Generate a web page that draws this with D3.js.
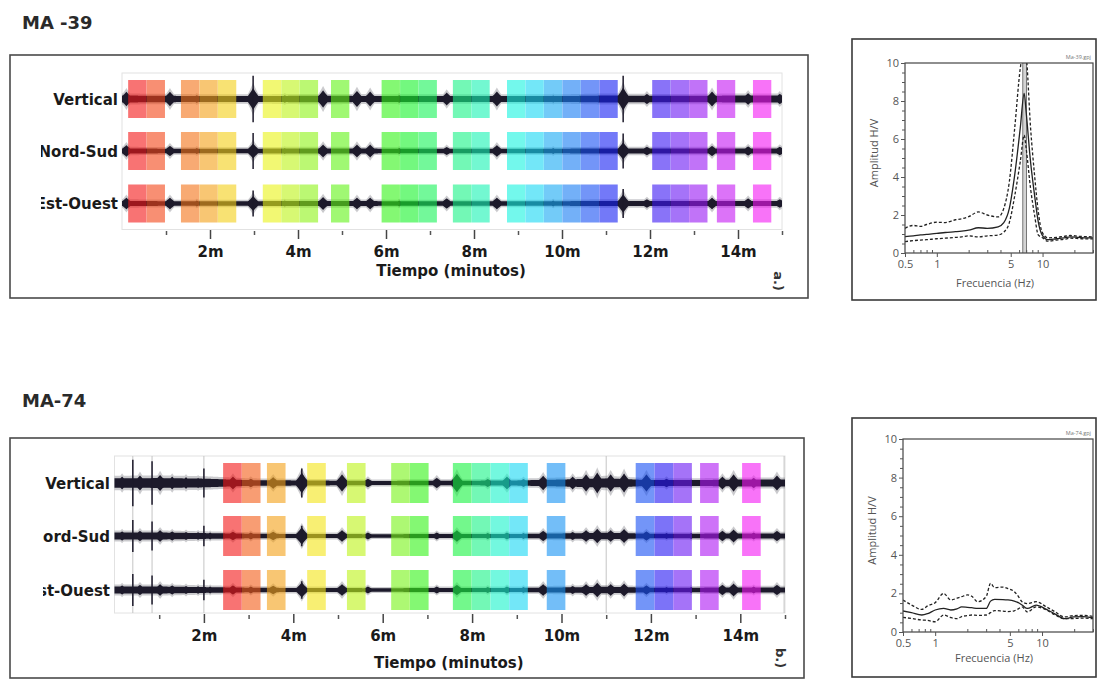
<!DOCTYPE html>
<html><head><meta charset="utf-8">
<script src="https://cdn.jsdelivr.net/npm/d3@7"></script>
<style>body{margin:0;background:#fff}svg{display:block}</style>
</head><body>
<svg id="c" width="1103" height="681"></svg>
<script>
// ---------------- DATA ----------------
const components = ["Vertical", "Nord-Sud", "Est-Ouest"];
const timeTicks = [2, 4, 6, 8, 10, 12, 14];
const timeMinorTicks = [1, 3, 5, 7, 9, 11, 13, 15];
const windowLengthMin = 25 / 60;

// MA-39 (panel a)
const winStartsA = [0.14, 0.56, 1.34, 1.76, 2.18, 3.2, 3.62, 4.04, 4.75, 5.9, 6.32, 6.74, 7.52, 7.94,
  8.75, 9.17, 9.59, 10.01, 10.43, 10.85, 12.05, 12.47, 12.89, 13.52, 14.34];
const baseA_V = [0.12, 0.11, 0.1, 0.1, 0.11, 0.11, 0.1, 0.1, 0.1, 0.1, 0.1, 0.12, 0.11, 0.11, 0.12, 0.12];
const baseA_N = [0.09, 0.08, 0.08, 0.08, 0.09, 0.09, 0.08, 0.08, 0.08, 0.08, 0.08, 0.09, 0.09, 0.09, 0.09, 0.09];
const baseA_E = [0.09, 0.08, 0.08, 0.08, 0.09, 0.09, 0.08, 0.08, 0.08, 0.08, 0.08, 0.09, 0.09, 0.09, 0.09, 0.09];
// [minute, Vertical, Nord-Sud, Est-Ouest] envelope amplitudes
const burstsA = [[0.1,.25,.2,.2],[1.09,.25,.18,.2],[1.7,.13,.1,.1],[2.98,.38,.26,.26],[3.7,.13,.1,.1],
  [4.57,.3,.22,.22],[5.34,.28,.22,.2],[5.64,.26,.22,.2],[6.3,.13,.1,.1],[7.38,.22,.14,.18],[8.52,.26,.2,.2],
  [9.8,.12,.1,.1],[11.39,.4,.3,.32],[11.93,.18,.15,.15],[13.41,.26,.18,.2],[14.23,.2,.16,.18],[14.95,.18,.15,.15]];
const spikesA = [[2.98,.8,.62,.45],[11.39,.8,.6,.5]];
const transientsA = [];

// MA-74 (panel b)
const winStartsB = [2.43, 2.85, 3.41, 4.31, 5.2, 6.19, 6.61, 7.57, 7.99, 8.41, 8.83, 9.67, 11.66, 12.08, 12.5, 13.1, 14.04];
const baseB_V = [0.16, 0.17, 0.15, 0.1, 0.09, 0.08, 0.07, 0.08, 0.08, 0.09, 0.12, 0.16, 0.1, 0.1, 0.12, 0.12];
const baseB_N = [0.12, 0.12, 0.1, 0.08, 0.07, 0.07, 0.06, 0.07, 0.07, 0.07, 0.09, 0.11, 0.08, 0.08, 0.09, 0.09];
const baseB_E = [0.12, 0.12, 0.1, 0.08, 0.07, 0.07, 0.06, 0.07, 0.07, 0.07, 0.09, 0.11, 0.08, 0.08, 0.09, 0.09];
const burstsB = [[0.17,.22,.16,.16],[0.57,.26,.18,.18],[1.02,.28,.2,.2],[1.29,.22,.16,.16],[1.6,.2,.14,.14],
  [1.87,.18,.13,.13],[2.14,.15,.12,.12],[2.65,.22,.15,.16],[3.05,.15,.12,.12],[3.55,.2,.15,.15],[4.19,.36,.3,.26],
  [5.09,.3,.2,.2],[5.67,.15,.12,.12],[7.21,.18,.12,.12],[7.66,.32,.2,.18],[8.35,.14,.1,.1],[8.78,.22,.12,.12],
  [9.15,.14,.1,.1],[9.59,.25,.18,.2],[10.25,.22,.14,.14],[10.55,.3,.2,.2],[10.8,.36,.25,.25],[11.1,.3,.2,.2],
  [11.4,.33,.24,.22],[11.9,.3,.16,.16],[12.35,.15,.1,.1],[12.9,.12,.1,.1],[13.6,.22,.18,.18],[13.85,.3,.22,.22],
  [14.3,.18,.12,.12],[14.82,.26,.18,.18]];
const spikesB = [[0.41,.8,.55,.55],[0.84,.75,.5,.5],[2.0,.5,.35,.35],[4.19,.5,.35,.3]];
const transientsB = [0.41, 0.84, 2.0, 11.0, 14.98];

// H/V curves
const hvTicksX = [0.5, 1, 5, 10];
const hvMinorX = [0.6, 0.7, 0.8, 0.9, 2, 3, 4, 6, 7, 8, 9, 20, 30];
const hvTicksY = [0, 2, 4, 6, 8, 10];
const hvMinorY = [0.5, 1, 1.5, 2.5, 3, 3.5, 4.5, 5, 5.5, 6.5, 7, 7.5, 8.5, 9, 9.5];

const freqA  = [0.5,0.6,0.7,0.8,1,1.2,1.5,1.72,2,2.47,3,3.8,4.3,4.85,5.45,6.15,6.7,7.0,7.7,8.4,9.1,9.9,11.2,13.5,16,18.3,22,26,30];
const meanA  = [0.86,0.9,0.95,0.98,1.03,1.08,1.12,1.15,1.2,1.33,1.3,1.38,1.6,2.35,4.1,6.56,8.4,7.4,4.8,3.05,1.65,0.95,0.7,0.75,0.8,0.85,0.82,0.8,0.8];
const upperA = [1.3,1.45,1.4,1.5,1.62,1.6,1.75,1.8,1.91,2.16,2.0,1.9,2.35,3.75,6.56,9.7,10.8,10.4,6.6,4.1,2.2,1.1,0.8,0.82,0.88,0.92,0.88,0.86,0.85];
const lowerA = [0.6,0.65,0.68,0.7,0.75,0.78,0.82,0.85,0.9,0.85,0.9,0.95,1.1,1.6,3.0,4.8,6.2,5.5,3.4,2.0,0.95,0.82,0.62,0.68,0.72,0.78,0.76,0.74,0.74];
const f0A = 6.75, f0BandA = [6.5, 7.05];

const freqB  = [0.5,0.6,0.75,0.85,1,1.2,1.4,1.6,1.77,2,2.2,2.5,3,3.3,3.6,4.3,4.8,5.5,6,6.5,7.3,8.8,11,13.3,16.2,19.8,24,30];
const meanB  = [1.09,1.0,0.88,0.95,1.14,1.22,1.14,1.2,1.3,1.28,1.26,1.22,1.22,1.6,1.69,1.68,1.66,1.6,1.52,1.4,1.22,1.39,1.17,0.93,0.69,0.78,0.8,0.74];
const upperB = [1.66,1.4,1.17,1.35,1.52,2.0,1.66,1.75,1.83,1.92,1.85,1.57,1.83,2.52,2.3,2.33,2.25,2.09,1.85,1.57,1.47,1.57,1.3,1.04,0.78,0.85,0.86,0.81];
const lowerB = [0.76,0.7,0.62,0.6,0.53,0.88,0.75,0.69,0.8,0.85,0.88,0.86,0.88,1.0,1.11,1.08,1.06,1.1,1.2,1.3,1.04,1.3,1.14,0.88,0.69,0.7,0.72,0.69];

// ---------------- DRAWING ----------------
const svg = d3.select("#c");
const traceColor = "#1d1a2b";
const boldFont = "'DejaVu Sans', sans-serif";
let clipId = 0;

function drawTracePanel(cfg) {
  const g = svg.append("g");
  g.append("text").attr("x", cfg.titleX).attr("y", cfg.titleY)
    .attr("font-family", boldFont).attr("font-weight", "bold").attr("font-size", 18)
    .attr("fill", "#2a2a2a").text(cfg.title);
  g.append("rect").attr("x", cfg.box[0]).attr("y", cfg.box[1]).attr("width", cfg.box[2]).attr("height", cfg.box[3])
    .attr("fill", "#fff").attr("stroke", "#4a4a4a").attr("stroke-width", 1.6);

  const x = d3.scaleLinear().domain([0, 15]).range([cfg.plot[0], cfg.plot[1]]);
  const amp = d3.scaleLinear().domain([0, 1]).range([0, 29]);

  g.append("rect").attr("x", cfg.plot[0]).attr("y", cfg.plot[2])
    .attr("width", cfg.plot[1] - cfg.plot[0]).attr("height", cfg.plot[3] - cfg.plot[2])
    .attr("fill", "none").attr("stroke", "#e2e2e2").attr("stroke-width", 1);

  g.selectAll("line.tr").data(cfg.transients).join("line")
    .attr("x1", d => x(d)).attr("x2", d => x(d)).attr("y1", cfg.plot[2]).attr("y2", cfg.plot[3])
    .attr("stroke", "#c4c4c4").attr("stroke-width", 1);

  const samples = d3.range(0, 15.0001, 0.01);
  const halfW = 0.2;
  cfg.bases.forEach((base, ci) => {
    const cy = cfg.tracks[ci];
    const env = t => {
      const i = Math.min(Math.floor(t), base.length - 2), f = t - i;
      let a = base[i] * (1 - f) + base[i + 1] * f;
      for (const b of cfg.bursts) {
        const u = Math.abs(t - b[0]) / halfW;
        if (u < 1) a = Math.max(a, b[ci + 1] * Math.pow(1 - u, 1.4));
      }
      return a;
    };
    // soft halo (blur of the dense waveform)
    const halo = d3.area().x(t => x(t)).y0(t => cy + amp(env(t)) * 1.45 + 0.5).y1(t => cy - amp(env(t)) * 1.45 - 0.5);
    g.append("path").datum(samples).attr("d", halo).attr("fill", "#6a6a72").attr("fill-opacity", 0.35);
    const area = d3.area().x(t => x(t)).y0(t => cy + amp(env(t))).y1(t => cy - amp(env(t)));
    g.append("path").datum(samples).attr("d", area).attr("fill", traceColor);
    g.selectAll(null).data(cfg.spikes).join("line")
      .attr("x1", d => x(d[0])).attr("x2", d => x(d[0]))
      .attr("y1", d => cy - amp(d[ci + 1])).attr("y2", d => cy + amp(d[ci + 1]))
      .attr("stroke", traceColor).attr("stroke-width", 1.5);
  });

  const n = cfg.windows.length;
  const hue = i => (n > 1 ? i / (n - 1) : 0) * 300;
  cfg.tracks.forEach(cy => {
    g.selectAll(null).data(cfg.windows).join("rect")
      .attr("x", d => x(d)).attr("width", d => x(d + windowLengthMin) - x(d))
      .attr("y", cy - cfg.winHalf).attr("height", 2 * cfg.winHalf)
      .attr("fill", (d, i) => d3.hsl(hue(i), 0.9, 0.52).formatHex())
      .attr("fill-opacity", 0.6);
  });

  // component labels (clipped at left as in the original)
  const cid = "lc" + (clipId++);
  svg.append("clipPath").attr("id", cid).append("rect")
    .attr("x", cfg.labelClip).attr("y", cfg.box[1]).attr("width", 400).attr("height", cfg.box[3]);
  g.append("g").attr("clip-path", `url(#${cid})`).selectAll("text").data(components).join("text")
    .attr("x", cfg.labelX).attr("y", (d, i) => cfg.tracks[i] + 5.5)
    .attr("text-anchor", "end").attr("font-family", boldFont).attr("font-weight", "bold")
    .attr("font-size", 15).attr("fill", "#1a1a1a").text(d => d);

  // time axis
  const ax = g.append("g").attr("transform", `translate(0,${cfg.axisY})`)
    .call(d3.axisBottom(x).tickValues(timeTicks).tickFormat(d => d + "m").tickSize(9).tickPadding(7));
  ax.select(".domain").remove();
  ax.selectAll("line").attr("stroke", "#444").attr("stroke-width", 1.5);
  ax.selectAll("text").attr("font-family", boldFont).attr("font-weight", "bold").attr("font-size", 15).attr("fill", "#1a1a1a");
  const axm = g.append("g").attr("transform", `translate(0,${cfg.axisY + 1})`)
    .call(d3.axisBottom(x).tickValues(timeMinorTicks).tickFormat("").tickSize(4));
  axm.select(".domain").remove();
  axm.selectAll("line").attr("stroke", "#555").attr("stroke-width", 1.5);

  g.append("text").attr("x", (cfg.plot[0] + cfg.plot[1]) / 2 - 1).attr("y", cfg.xTitleY)
    .attr("text-anchor", "middle").attr("font-family", boldFont).attr("font-weight", "bold")
    .attr("font-size", 15).attr("fill", "#1a1a1a").text("Tiempo (minutos)");
  g.append("text").attr("transform", `translate(${cfg.tag[0]},${cfg.tag[1]}) rotate(90)`)
    .attr("text-anchor", "middle").attr("dominant-baseline", "central")
    .attr("font-family", boldFont).attr("font-weight", "bold").attr("font-size", 13).attr("fill", "#333")
    .text(cfg.tagText);
}

function drawHV(cfg) {
  const g = svg.append("g");
  const font = "'Open Sans', sans-serif";
  g.append("rect").attr("x", cfg.box[0]).attr("y", cfg.box[1]).attr("width", cfg.box[2]).attr("height", cfg.box[3])
    .attr("fill", "#fff").attr("stroke", "#3a3a3a").attr("stroke-width", 1.6);
  const [x0, x1, y0, y1] = cfg.plot;
  const x = d3.scaleLog().domain([0.5, 30]).range([x0, x1]);
  const y = d3.scaleLinear().domain([0, 10]).range([y1, y0]);

  const cid = "hc" + (clipId++);
  svg.append("clipPath").attr("id", cid).append("rect").attr("x", x0).attr("y", y0).attr("width", x1 - x0).attr("height", y1 - y0);
  const pg = g.append("g").attr("clip-path", `url(#${cid})`);

  if (cfg.f0) {
    pg.append("rect").attr("x", x(cfg.band[0])).attr("width", x(cfg.band[1]) - x(cfg.band[0]))
      .attr("y", y0).attr("height", y1 - y0).attr("fill", "#d4d4d4");
    pg.selectAll(null).data(cfg.band).join("line")
      .attr("x1", d => x(d)).attr("x2", d => x(d)).attr("y1", y0).attr("y2", y1)
      .attr("stroke", "#777").attr("stroke-width", 1);
  }
  const line = d3.line().x(d => x(d[0])).y(d => y(d[1])).curve(d3.curveMonotoneX);
  const zip = arr => cfg.freq.map((f, i) => [f, arr[i]]);
  pg.append("path").datum(zip(cfg.mean)).attr("d", line).attr("fill", "none").attr("stroke", "#222").attr("stroke-width", 1.3);
  [cfg.upper, cfg.lower].forEach(a => {
    pg.append("path").datum(zip(a)).attr("d", line).attr("fill", "none").attr("stroke", "#222")
      .attr("stroke-width", 1.3).attr("stroke-dasharray", "3,2");
  });

  g.append("rect").attr("x", x0).attr("y", y0).attr("width", x1 - x0).attr("height", y1 - y0)
    .attr("fill", "none").attr("stroke", "#444").attr("stroke-width", 1.2);

  const style = sel => {
    sel.select(".domain").remove();
    sel.selectAll("line").attr("stroke", "#555");
    sel.selectAll("text").attr("font-family", font).attr("font-size", 11).attr("fill", "#555");
  };
  g.append("g").attr("transform", `translate(0,${y1})`)
    .call(d3.axisBottom(x).tickValues(hvTicksX).tickFormat(d => d).tickSize(4).tickPadding(3)).call(style);
  g.append("g").attr("transform", `translate(0,${y1})`)
    .call(d3.axisBottom(x).tickValues(hvMinorX).tickFormat("").tickSizeInner(-3).tickSizeOuter(0)).call(style);
  g.append("g").attr("transform", `translate(${x0},0)`)
    .call(d3.axisLeft(y).tickValues(hvTicksY).tickSize(4).tickPadding(2)).call(style);
  g.append("g").attr("transform", `translate(${x0},0)`)
    .call(d3.axisLeft(y).tickValues(hvMinorY).tickFormat("").tickSizeInner(3).tickSizeOuter(0)).call(style);

  g.append("text").attr("x", (x0 + x1) / 2 - 4).attr("y", cfg.xTitleY).attr("text-anchor", "middle")
    .attr("font-family", font).attr("font-size", 11).attr("fill", "#555").text("Frecuencia (Hz)");
  g.append("text").attr("transform", `translate(${cfg.yTitleX},${(y0 + y1) / 2 - 5}) rotate(-90)`)
    .attr("text-anchor", "middle").attr("font-family", font).attr("font-size", 11).attr("fill", "#555").text("Amplitud H/V");
  g.append("text").attr("x", x1 - 2).attr("y", y0 - 4).attr("text-anchor", "end")
    .attr("font-family", font).attr("font-size", 5.5).attr("fill", "#777").text(cfg.tiny);
}

drawTracePanel({
  title: "MA -39", titleX: 22, titleY: 29,
  box: [10, 55, 798, 243], plot: [122, 782, 73, 229.5],
  tracks: [99, 151, 203.5], winHalf: 19, labelX: 118, labelClip: 41,
  axisY: 230, xTitleY: 276, tag: [778, 281], tagText: "a.)",
  windows: winStartsA, bases: [baseA_V, baseA_N, baseA_E], bursts: burstsA, spikes: spikesA, transients: transientsA
});
drawTracePanel({
  title: "MA-74", titleX: 22, titleY: 407,
  box: [10, 438, 794, 240], plot: [114.5, 785, 456, 613],
  tracks: [483, 536, 590], winHalf: 20, labelX: 110, labelClip: 43,
  axisY: 614, xTitleY: 668, tag: [780, 658], tagText: "b.)",
  windows: winStartsB, bases: [baseB_V, baseB_N, baseB_E], bursts: burstsB, spikes: spikesB, transients: transientsB
});
drawHV({
  box: [852, 39, 244, 261], plot: [905, 1093, 63, 253], xTitleY: 287, yTitleX: 878,
  freq: freqA, mean: meanA, upper: upperA, lower: lowerA, f0: f0A, band: f0BandA, tiny: "Ma-39.gpj"
});
drawHV({
  box: [852, 418, 244, 259], plot: [903, 1093, 439, 632], xTitleY: 662, yTitleX: 876,
  freq: freqB, mean: meanB, upper: upperB, lower: lowerB, f0: null, tiny: "Ma-74.gpj"
});
</script>
</body></html>
